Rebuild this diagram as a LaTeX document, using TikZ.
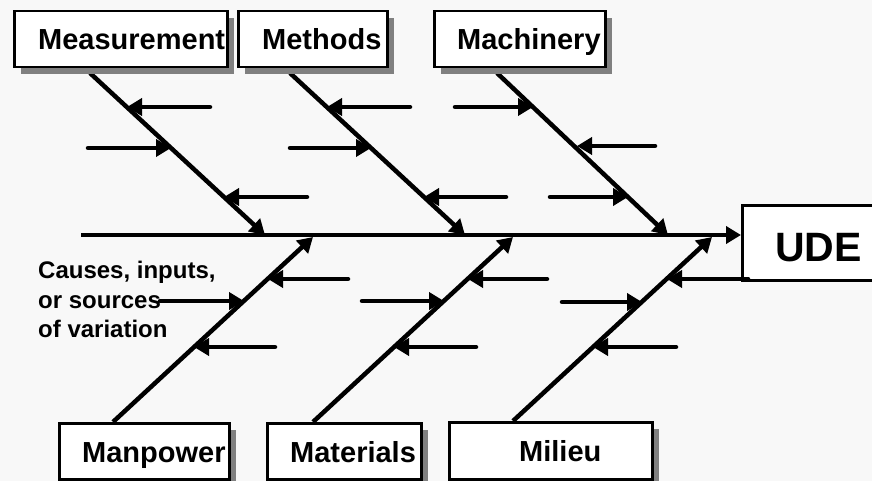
\documentclass[tikz,border=0pt]{standalone}
\usepackage{fontspec}
\setmainfont{Liberation Sans}
\usetikzlibrary{arrows.meta,shadows,calc}
\definecolor{bgcol}{RGB}{248,248,248}
\definecolor{shadecol}{RGB}{128,128,128}
\tikzset{
  catbox/.style={draw=black, line width=2.5pt, fill=white, rectangle, inner sep=0pt,
    anchor=north west,
    general shadow={fill=shadecol, shadow xshift=7pt, shadow yshift=-7pt}},
  udebox/.style={draw=black, line width=2.5pt, fill=white, rectangle, inner sep=0pt, anchor=north west},
  cattext/.style={font=\bfseries\fontsize{29}{30}\selectfont, anchor=base west, inner sep=0pt},
  notetext/.style={font=\bfseries\fontsize{24}{29}\selectfont, anchor=base west, inner sep=0pt},
  bone/.style={line width=4.5pt, -{Triangle[length=15pt,width=17pt]}},
  cause/.style={line width=4.5pt, line cap=round, -{Triangle[length=15pt,width=17pt]}},
}
\begin{document}
\begin{tikzpicture}[x=1pt,y=-1pt]
\useasboundingbox (0,0) rectangle (872,481);
\clip (0,0) rectangle (872,481);
\fill[bgcol] (0,0) rectangle (872,481);

% spine and effect box
\node[udebox, minimum width=150pt, minimum height=75pt] (ude) at (741,204) {};
\node[font=\bfseries\fontsize{41}{44}\selectfont, anchor=base west, inner sep=0pt] (udeT) at (775,261) {UDE};
\coordinate (sp0) at (81,235);
\draw[bone] (sp0) -- (sp0 -| ude.west);

% bone coordinates
\coordinate (a1) at (90,73);   \coordinate (a2) at (265,235);
\coordinate (b1) at (290,73);  \coordinate (b2) at (465,235);
\coordinate (c1) at (497,73);  \coordinate (c2) at (668,235);
\coordinate (d1) at (113,422); \coordinate (d2) at (313,237);
\coordinate (e1) at (313,422); \coordinate (e2) at (513,237);
\coordinate (f1) at (513,421); \coordinate (f2) at (712,237);

\foreach \b in {a,b,c,d,e,f} { \draw[bone] (\b1) -- (\b2); }

% causes: Measurement
\coordinate (a1s) at (210,107); \coordinate (a1t) at (127,107);
\coordinate (a2s) at (88,148);  \coordinate (a2t) at (171,148);
\coordinate (a3s) at (307,197); \coordinate (a3t) at (224,197);
% Methods
\coordinate (b1s) at (410,107); \coordinate (b1t) at (327,107);
\coordinate (b2s) at (290,148); \coordinate (b2t) at (371,148);
\coordinate (b3s) at (506,197); \coordinate (b3t) at (424,197);
% Machinery
\coordinate (c1s) at (455,107); \coordinate (c1t) at (533,107);
\coordinate (c2s) at (655,146); \coordinate (c2t) at (577,146);
\coordinate (c3s) at (550,197); \coordinate (c3t) at (628,197);
% Manpower
\coordinate (d1s) at (348,279); \coordinate (d1t) at (268,279);
\coordinate (d2s) at (160,301); \coordinate (d2t) at (244,301);
\coordinate (d3s) at (275,347); \coordinate (d3t) at (194,347);
% Materials
\coordinate (e1s) at (547,279); \coordinate (e1t) at (468,279);
\coordinate (e2s) at (362,301); \coordinate (e2t) at (444,301);
\coordinate (e3s) at (476,347); \coordinate (e3t) at (394,347);
% Milieu
\coordinate (f1s) at (748,279); \coordinate (f1t) at (667,279);
\coordinate (f2s) at (562,302); \coordinate (f2t) at (642,302);
\coordinate (f3s) at (676,347); \coordinate (f3t) at (593,347);

\foreach \b in {a,b,c,d,e,f} {
  \foreach \i in {1,2,3} { \draw[cause] (\b\i s) -- (\b\i t); }
}

% category boxes
\node[catbox, minimum width=213pt, minimum height=56pt] (meas) at (13,10) {};
\node[catbox, minimum width=149pt, minimum height=56pt] (meth) at (237,10) {};
\node[catbox, minimum width=171pt, minimum height=56pt] (mach) at (433,10) {};
\node[catbox, minimum width=170pt, minimum height=56pt] (manp) at (58,422) {};
\node[catbox, minimum width=154pt, minimum height=56pt] (mate) at (266,422) {};
\node[catbox, minimum width=203pt, minimum height=57pt] (mili) at (448,421) {};

\node[cattext] (measT) at (38,50) {Measurement};
\node[cattext] (methT) at (262,50) {Methods};
\node[cattext] (machT) at (457,50) {Machinery};
\node[cattext] (manpT) at (82,462) {Manpower};
\node[cattext] (mateT) at (290,462) {Materials};
\node[cattext] (miliT) at (519,461) {Milieu};

% note
\node[notetext] (note1) at (38,278) {Causes, inputs,};
\node[notetext] (note2) at (38,308) {or sources};
\node[notetext] (note3) at (38,337) {of variation};
\end{tikzpicture}
\end{document}
